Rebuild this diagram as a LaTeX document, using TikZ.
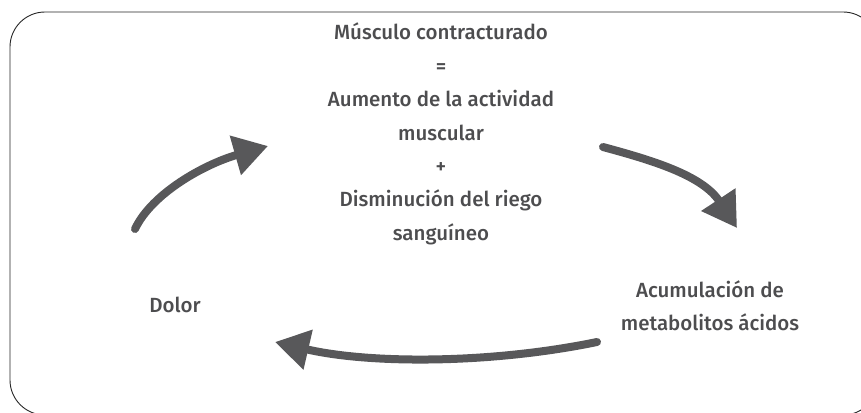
\documentclass[tikz,border=0pt]{standalone}
\usepackage{fontspec}
\setmainfont{Fira Sans}[UprightFont=* Medium]
\usetikzlibrary{arrows.meta}
\definecolor{txt}{HTML}{4D4D4F}
\definecolor{arr}{HTML}{58585A}
\tikzset{
  lbl/.style={text=txt, font=\fontsize{20.5}{33.4}\selectfont, align=center, inner sep=0pt},
  cyc/.style={draw=arr, line width=8pt, line cap=round, -{Triangle[length=34pt,width=39pt]}},
}
\begin{document}
\begin{tikzpicture}[x=1pt,y=-1pt]
\useasboundingbox (0,0) rectangle (861,412);
\clip (0,0) rectangle (861,412);
\draw[line width=0.9pt, black!85] (10,12) [rounded corners=35pt] rectangle (878,415);
\node[lbl] (top) at (441,134) {Músculo contracturado\\=\\Aumento de la actividad\\muscular\\+\\Disminución del riego\\sanguíneo};
\node[lbl] (acum) at (710,306) {Acumulación de\\metabolitos ácidos};
\node[lbl] (dolor) at (175,305) {Dolor};
\coordinate (t1) at (135,229); \coordinate (h1) at (268,146);
\coordinate (t2) at (603,147); \coordinate (h2) at (737,228);
\coordinate (t3) at (597,342); \coordinate (h3) at (275,342);
\draw[cyc] (t1) .. controls (152,193) and (205,164) .. (h1);
\draw[cyc] (t2) .. controls (651,160) and (702,175) .. (h2);
\draw[cyc] (t3) .. controls (490,364) and (370,364) .. (h3);
\end{tikzpicture}
\end{document}
